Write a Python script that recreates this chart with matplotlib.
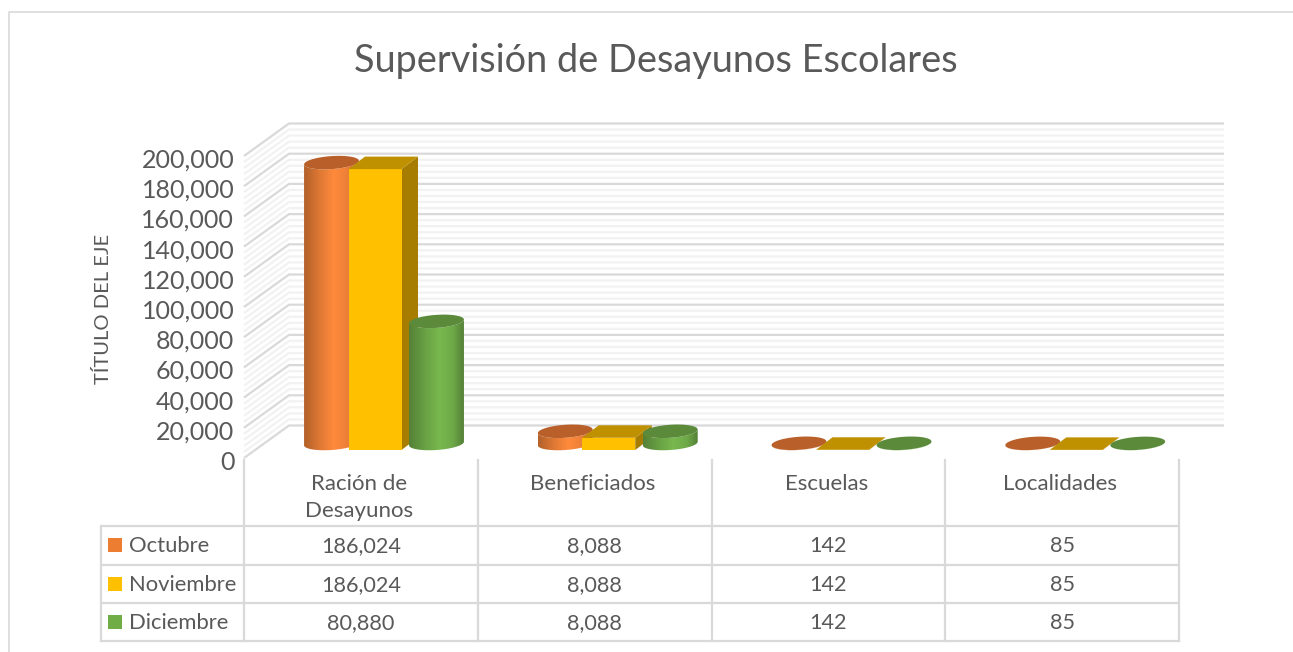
import numpy as np
import matplotlib
matplotlib.use('Agg')
import matplotlib.pyplot as plt
from matplotlib.colors import to_rgb
from matplotlib.patches import Polygon
from matplotlib.transforms import ScaledTranslation

plt.rcParams['font.family'] = ['Lato', 'DejaVu Sans']

# Datos del grafico
categorias = ['Ración de\nDesayunos', 'Beneficiados', 'Escuelas', 'Localidades']
meses = ['Octubre', 'Noviembre', 'Diciembre']
octubre = [186024, 8088, 142, 85]
noviembre = [186024, 8088, 142, 85]
diciembre = [80880, 8088, 142, 85]
ticks_y = [0, 20000, 40000, 60000, 80000, 100000, 120000, 140000, 160000, 180000, 200000]

GRIS = '#595959'
LINEA = '#d9d9d9'
W, H = 1293, 652
X0, X1, Y0, Y1 = 244, 1179, 458, 156

fig = plt.figure(figsize=(W / 100, H / 100), dpi=100)

# capa de fondo en pixeles para el marco y la tabla
fondo = fig.add_axes([0, 0, 1, 1], zorder=0)
fondo.set_xlim(0, W)
fondo.set_ylim(H, 0)
fondo.axis('off')

ax = fig.add_axes([X0 / W, 1 - Y0 / H, (X1 - X0) / W, (Y0 - Y1) / H], zorder=1)
ax.set_xlim(0, 4)
ax.set_ylim(0, 200000)
ax.patch.set_alpha(0)
for s in ax.spines.values():
    s.set_visible(False)

PX = 4 / (X1 - X0)        # categorias por pixel
PY = 200000 / (Y0 - Y1)   # valor por pixel

# paredes en falsa perspectiva
FONDO_DX = 45 * PX
FONDO_DY = 32.5 * PY
X_FIN = (1224 - X0) * PX
for v in np.arange(0, 200001, 4000):
    mayor = v % 20000 == 0
    c = LINEA if mayor else '#f2f2f2'
    z = 2 if mayor else 1
    ax.plot([0, FONDO_DX, X_FIN], [v, v + FONDO_DY, v + FONDO_DY], color=c, lw=1.6,
            clip_on=False, zorder=z, solid_joinstyle='miter', solid_capstyle='butt')


def gradiente(color):
    # sombra a los lados del cilindro
    base = np.array(to_rgb(color))
    t = np.linspace(0, 1, 128)
    f = np.interp(t, [0, 0.3, 0.55, 0.8, 1], [0.7, 0.88, 1.0, 0.92, 0.7])
    return (base[None, :] * f[:, None])[None, :, :]


def elipse(cx, cy, ancho=55, alto=13, ang=4, t=None):
    # cx, cy en datos; ancho y alto en pixeles
    if t is None:
        t = np.linspace(0, 2 * np.pi, 80)
    a = np.radians(ang)
    ex = ancho / 2 * np.cos(t)
    ey = alto / 2 * np.sin(t)
    return (cx + (ex * np.cos(a) - ey * np.sin(a)) * PX,
            cy + (ex * np.sin(a) + ey * np.cos(a)) * PY)


def cilindro(x_izq, valor, claro, tapa, zorder):
    cx = x_izq + 27.5 * PX
    base = 14.5 * PY
    tope = base + valor
    t_inf = np.linspace(np.pi, 2 * np.pi, 40)
    xb, yb = elipse(cx, base, t=t_inf)
    xt, yt = elipse(cx, tope, t=t_inf[::-1])
    puntos = np.column_stack([np.r_[xb, xt], np.r_[yb, yt]])
    cuerpo = Polygon(puntos, closed=True, transform=ax.transData, fc='none', ec='none')
    ax.add_patch(cuerpo)
    img = ax.imshow(gradiente(claro), extent=[cx - 27.5 * PX, cx + 27.5 * PX, 0, tope + 10 * PY],
                    aspect='auto', zorder=zorder, interpolation='bilinear', clip_on=True)
    img.set_clip_path(cuerpo)
    xe, ye = elipse(cx, tope)
    ax.fill(xe, ye, color=tapa, lw=0, zorder=zorder + 0.1, clip_on=False)


def prisma(x_izq, valor, frente, tapa, lado, zorder):
    ancho = 53 * PX
    dx = 16.5 * PX
    dy = 12.5 * PY
    base = 8 * PY
    tope = base + valor
    x_der = x_izq + ancho
    ax.add_patch(Polygon([(x_der, base), (x_der + dx, base + dy), (x_der + dx, tope + dy), (x_der, tope)],
                         fc=lado, ec='none', zorder=zorder, clip_on=False))
    ax.add_patch(Polygon([(x_izq, base), (x_der, base), (x_der, tope), (x_izq, tope)],
                         fc=frente, ec='none', zorder=zorder + 0.1, clip_on=False))
    ax.add_patch(Polygon([(x_izq, tope), (x_der, tope), (x_der + dx, tope + dy), (x_izq + dx, tope + dy)],
                         fc=tapa, ec='none', zorder=zorder + 0.2, clip_on=False))


for i in range(len(categorias)):
    cilindro(i + 60 * PX, octubre[i], '#ff8a3c', '#b9602a', 5 + i)
    prisma(i + 104.5 * PX, noviembre[i], '#ffc000', '#bf9000', '#a67d00', 5.3 + i)
    cilindro(i + 165 * PX, diciembre[i], '#78b84e', '#5a8a3a', 5.6 + i)

ax.set_xlim(0, 4)
ax.set_ylim(0, 200000)
ax.set_xticks([])
ax.set_yticks(ticks_y)
ax.set_yticklabels([f'{v:,}' for v in ticks_y], color=GRIS, fontsize=18)
ax.tick_params(axis='y', length=0, pad=7)
bajar = ScaledTranslation(0, -1.5 / 72, fig.dpi_scale_trans)
for et in ax.get_yticklabels():
    et.set_transform(et.get_transform() + bajar)
ax.set_ylabel('TÍTULO DEL EJE', color=GRIS, fontsize=14.5, va='center')
ax.yaxis.set_label_coords((103 - X0) / (X1 - X0), (Y0 - 309) / (Y0 - Y1))

# marco exterior
fondo.plot([9, 9, W], [H, 12, 12], color=LINEA, lw=1.2)

# tabla de datos
filas_y = [526, 564.5, 603, 641]
for y in filas_y:
    fondo.plot([101, X1], [y, y], color=LINEA, lw=1.6)
fondo.plot([101, 101], [526, 641], color=LINEA, lw=1.6)
for i in range(len(categorias) + 1):
    x = X0 + i * (X1 - X0) / 4
    fondo.plot([x, x], [460, 641], color=LINEA, lw=1.6)

colores = ['#ed7d31', '#ffc000', '#70ad47']
series = [octubre, noviembre, diciembre]
for f, mes in enumerate(meses):
    yc = (filas_y[f] + filas_y[f + 1]) / 2
    fondo.add_patch(plt.Rectangle((108, yc - 7), 14, 14, fc=colores[f], ec='none'))
    fondo.text(129, yc + 1, mes, color=GRIS, fontsize=15.8, va='center', ha='left')
    for i, v in enumerate(series[f]):
        fondo.text(X0 + (i + 0.5) * (X1 - X0) / 4, yc + 1, f'{v:,}', color=GRIS, fontsize=15.6,
                   va='center', ha='center')

for i, c in enumerate(categorias):
    fondo.text(X0 + (i + 0.5) * (X1 - X0) / 4 - 2, 474.5, c, color=GRIS, fontsize=16,
               va='top', ha='center', linespacing=1.4)

fondo.text(656, 61, 'Supervisión de Desayunos Escolares', color=GRIS, fontsize=27.3,
           va='center', ha='center')

fig.savefig('out.png', dpi=100)
